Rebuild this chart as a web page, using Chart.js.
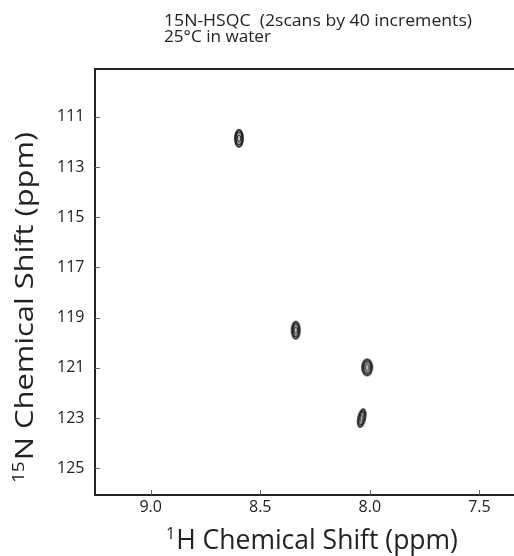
<!DOCTYPE html>
<html>
<head>
<meta charset="utf-8">
<script src="https://cdn.jsdelivr.net/npm/chart.js@4.4.0/dist/chart.umd.min.js"></script>
<style>
  html, body { margin: 0; padding: 0; background: #fff; }
  canvas { display: block; }
</style>
</head>
<body>
<canvas id="hsqc" width="514" height="556"></canvas>
<script>
// peak positions (1H ppm, 15N ppm)
const hShift = [8.597, 8.338, 8.012, 8.037];
const nShift = [111.86, 119.50, 120.98, 123.00];
const peakTilt = [0, 0, 0, 12];

const xTicks = [9.0, 8.5, 8.0, 7.5];
const yTicks = [111, 113, 115, 117, 119, 121, 123, 125];

const titleLines = ["15N-HSQC  (2scans by 40 increments)", "25°C in water"];
const xTitle = ["1", "H Chemical Shift (ppm)"];
const yTitle = ["15", "N Chemical Shift (ppm)"];

const ink = "#222";
const fontName = "'Open Sans', sans-serif";

// little contour blob drawn once and used as the point style
function contourBlob(w, h) {
  let c = document.createElement("canvas");
  c.width = w + 4;
  c.height = h + 4;
  let g = c.getContext("2d");
  let cx = c.width / 2, cy = c.height / 2;
  g.fillStyle = "#bdbdbd";
  g.beginPath();
  g.ellipse(cx, cy, w / 2, h / 2, 0, 0, Math.PI * 2);
  g.fill();
  g.strokeStyle = ink;
  [[1, 1.8], [0.72, 1.3], [0.42, 1.0]].forEach(function (r) {
    g.lineWidth = r[1];
    g.beginPath();
    g.ellipse(cx, cy, (w / 2) * r[0], (h / 2) * r[0], 0, 0, Math.PI * 2);
    g.stroke();
  });
  return c;
}

const blobs = [contourBlob(8, 17), contourBlob(8, 17), contourBlob(10, 16), contourBlob(7, 18)];

let points = [];
for (let i = 0; i < hShift.length; i++) {
  points.push({ x: hShift[i], y: nShift[i] });
}

function drawSup(ctx, sup, main, x, y, size) {
  ctx.font = Math.round(size * 0.62) + "px " + fontName;
  ctx.fillText(sup, x, y - size * 0.36);
  let sw = ctx.measureText(sup).width;
  ctx.font = size + "px " + fontName;
  ctx.fillText(main, x + sw + 1, y);
}

function supWidth(ctx, sup, main, size) {
  ctx.font = Math.round(size * 0.62) + "px " + fontName;
  let sw = ctx.measureText(sup).width;
  ctx.font = size + "px " + fontName;
  return sw + 1 + ctx.measureText(main).width;
}

// plain text squeezed or stretched to the width it has in the original
function fitText(ctx, str, x, y, size, width) {
  ctx.save();
  ctx.font = size + "px " + fontName;
  let w = ctx.measureText(str).width;
  ctx.translate(x, y);
  ctx.scale(width / w, 1);
  ctx.fillText(str, 0, 0);
  ctx.restore();
}

const frame = {
  id: "frame",
  afterDraw(chart) {
    const ctx = chart.ctx;
    const a = chart.chartArea;
    const x = chart.scales.x, y = chart.scales.y;
    ctx.save();

    // inward ticks
    ctx.strokeStyle = "#666";
    ctx.lineWidth = 1;
    x.ticks.forEach(function (t) {
      let px = Math.round(x.getPixelForValue(t.value)) + 0.5;
      ctx.beginPath();
      ctx.moveTo(px, a.bottom);
      ctx.lineTo(px, a.bottom - 5);
      ctx.stroke();
    });
    y.ticks.forEach(function (t) {
      let py = Math.round(y.getPixelForValue(t.value)) + 0.5;
      ctx.beginPath();
      ctx.moveTo(a.left, py);
      ctx.lineTo(a.left + 5, py);
      ctx.stroke();
    });

    // top edge of the box
    ctx.strokeStyle = ink;
    ctx.lineWidth = 2;
    ctx.beginPath();
    ctx.moveTo(a.left - 1, a.top);
    ctx.lineTo(a.right, a.top);
    ctx.stroke();

    ctx.fillStyle = ink;
    ctx.textBaseline = "alphabetic";
    ctx.textAlign = "left";

    // heading
    fitText(ctx, titleLines[0], 164, 26, 16, 308);
    fitText(ctx, titleLines[1], 164, 42, 16, 107);

    // x axis title
    drawSup(ctx, xTitle[0], xTitle[1], 166, 549, 26.5);

    // y axis title, stretched like the original
    let w = supWidth(ctx, yTitle[0], yTitle[1], 26);
    ctx.translate(33, 307.5);
    ctx.rotate(-Math.PI / 2);
    ctx.scale(351 / w, 1);
    drawSup(ctx, yTitle[0], yTitle[1], -w / 2, 0, 26);

    ctx.restore();
  }
};

new Chart(document.getElementById("hsqc"), {
  type: "scatter",
  data: {
    datasets: [{
      label: "peaks",
      data: points,
      pointStyle: blobs,
      rotation: peakTilt,
      pointRadius: 9,
      pointHoverRadius: 9
    }]
  },
  options: {
    responsive: false,
    devicePixelRatio: 1,
    animation: false,
    layout: {
      autoPadding: false,
      padding: { top: 69, left: 57, right: 0, bottom: 0 }
    },
    plugins: {
      legend: { display: false },
      tooltip: { enabled: false },
      title: { display: false }
    },
    scales: {
      x: {
        type: "linear",
        reverse: true,
        min: 7.342,
        max: 9.254,
        afterBuildTicks: function (s) {
          s.ticks = xTicks.map(function (v) { return { value: v }; });
        },
        afterFit: function (s) {
          s.height = 61;
          s.paddingLeft = 0;
          s.paddingRight = 0;
        },
        ticks: {
          color: ink,
          font: { family: fontName, size: 16 },
          padding: 3,
          maxRotation: 0,
          callback: function (v) { return v.toFixed(1); }
        },
        grid: { drawOnChartArea: false, drawTicks: false },
        border: { display: true, color: ink, width: 2 }
      },
      y: {
        type: "linear",
        reverse: true,
        min: 109.10,
        max: 126.06,
        afterBuildTicks: function (s) {
          s.ticks = yTicks.map(function (v) { return { value: v }; });
        },
        afterFit: function (s) {
          s.width = 38;
          s.paddingTop = 0;
          s.paddingBottom = 0;
        },
        ticks: {
          color: ink,
          font: { family: fontName, size: 16 },
          crossAlign: "far",
          padding: 0
        },
        grid: { drawOnChartArea: false, drawTicks: false },
        border: { display: true, color: ink, width: 2 }
      }
    }
  },
  plugins: [frame]
});
</script>
</body>
</html>
